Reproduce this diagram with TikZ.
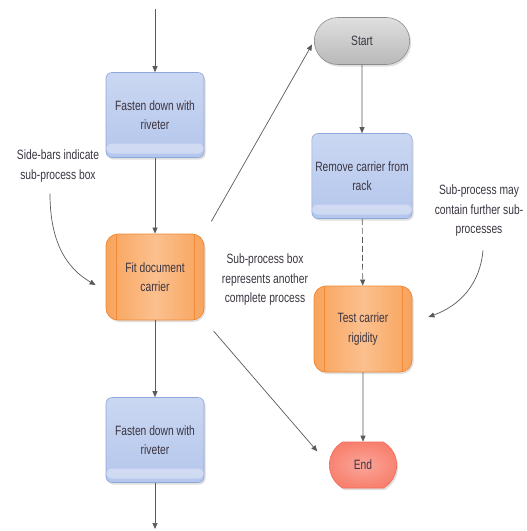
\documentclass[tikz,border=0pt]{standalone}
\usepackage{fontspec}
\setmainfont[FakeStretch=0.76]{Liberation Sans}
\usepackage{xcolor}
\usetikzlibrary{shapes.misc, shadows, arrows.meta}

\definecolor{linegray}{HTML}{5A5A5A}
\definecolor{textgray}{HTML}{3A3440}
\definecolor{boxblue}{HTML}{B4C6EC}
\definecolor{boxblueb}{HTML}{8EA8DA}
\definecolor{boxorange}{HTML}{F8A35C}
\definecolor{boxoranget}{HTML}{FBC08E}
\definecolor{boxorangeb}{HTML}{F08A36}
\definecolor{boxred}{HTML}{F8806E}
\definecolor{boxredb}{HTML}{F36A58}

\tikzset{
    every node/.style={font=\fontsize{13.5}{19.5}\selectfont, text=textgray, align=center},
    arr/.style={draw=linegray, line width=0.7pt, -{Triangle[length=6pt, width=5pt]}},
    shade/.style={drop shadow={shadow xshift=1.5pt, shadow yshift=-2pt, opacity=0.25, fill=gray}},
    procbox/.style={shade, draw=boxblueb, rounded corners=6pt, minimum width=98pt, minimum height=85pt,
        top color=boxblue!70!white, bottom color=boxblue, line width=0.6pt,
        path picture={\fill[white, opacity=0.35]
            ([yshift=4pt]path picture bounding box.south west) rectangle ([yshift=14pt]path picture bounding box.south east);}},
    subproc/.style={shade, draw=boxorangeb, rounded corners=12pt, minimum width=98pt, minimum height=86pt,
        left color=boxorange, right color=boxorange, middle color=boxoranget, line width=0.8pt,
        path picture={\draw[boxorangeb, line width=0.8pt]
            ([xshift=10pt]path picture bounding box.north west) -- ([xshift=10pt]path picture bounding box.south west)
            ([xshift=-10pt]path picture bounding box.north east) -- ([xshift=-10pt]path picture bounding box.south east);}},
    termstart/.style={shade, rounded rectangle, draw=gray!90, minimum width=102pt, minimum height=47pt,
        top color=gray!25, bottom color=gray!55, line width=0.6pt},
    termend/.style={shade, rounded rectangle, rounded rectangle arc length=120, draw=boxredb, minimum width=74pt, minimum height=46pt,
        inner color=boxred!70!white, outer color=boxred, line width=0.6pt},
    note/.style={text=textgray}
}

\begin{document}
\begin{tikzpicture}[x=1pt, y=1pt]
    \useasboundingbox[fill=white] (0,0) rectangle (527,-531);

    \node[procbox] (fasten1) at (155, -115) {Fasten down with\\riveter};
    \node[subproc] (fit) at (155, -277) {Fit document\\carrier};
    \node[procbox] (fasten2) at (155, -440) {Fasten down with\\riveter};
    \coordinate (topin) at (155, -9);
    \coordinate (botout) at (155, -529);

    \node[termstart] (start) at (362, -41) {Start};
    \node[procbox] (remove) at (362, -176) {Remove carrier from\\rack};
    \node[subproc] (test) at (363, -329) {Test carrier\\rigidity};
    \node[termend] (end) at (363, -465) {End};

    \node[note] (sidenote) at (58, -166) {Side-bars indicate\\sub-process box};
    \node[note] (boxnote) at (265, -280) {Sub-process box\\represents another\\complete process};
    \node[note] (furthernote) at (479, -211) {Sub-process may\\contain further sub-\\processes};

    \draw[arr] (topin) -- (fasten1);
    \draw[arr] (fasten1) -- (fit);
    \draw[arr] (fit) -- (fasten2);
    \draw[arr] (fasten2) -- (botout);
    \draw[arr] (start) -- (remove);
    \draw[arr, dash pattern=on 6pt off 3pt] (remove) -- (test);
    \draw[arr] (test) -- (end);
    \draw[arr, shorten <=14pt, shorten >=4pt] (fit.north east) -- (start.west);
    \draw[arr, shorten <=14pt, shorten >=18pt] (fit.south east) -- (end.west);
    \draw[arr] ([xshift=-8pt, yshift=-8pt]sidenote.south) to[out=-90, in=150] ([xshift=-10pt, yshift=-8pt]fit.west);
    \draw[arr] ([xshift=4pt, yshift=-10pt]furthernote.south) to[out=-95, in=20] ([xshift=16pt, yshift=12pt]test.east);
\end{tikzpicture}
\end{document}
